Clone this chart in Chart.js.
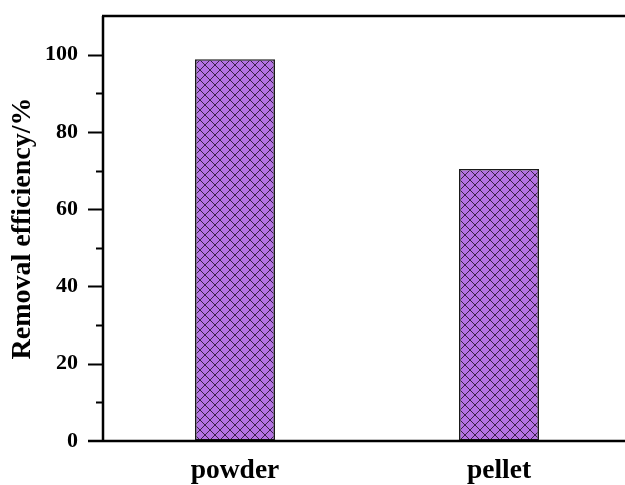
<!DOCTYPE html>
<html>
<head>
<meta charset="utf-8">
<script src="https://cdn.jsdelivr.net/npm/chart.js@4.4.0/dist/chart.umd.min.js"></script>
<style>
  html, body { margin: 0; padding: 0; background: #fff; overflow: hidden; }
  #wrap { width: 640px; height: 485px; }
</style>
</head>
<body>
<div id="wrap"><canvas id="removalChart" width="640" height="485"></canvas></div>
<script>
// data
const categories = ['powder', 'pellet'];
const removalEff = [98.8, 70.4];
const yMajorTicks = [0, 20, 40, 60, 80, 100];
const yMinorTicks = [10, 30, 50, 70, 90];

const fontFam = "'Liberation Serif', 'Times New Roman', serif";

// crosshatch fill for the bars
function makeHatch() {
    const s = 10;
    const c = document.createElement('canvas');
    c.width = s; c.height = s;
    const g = c.getContext('2d');
    g.fillStyle = '#b473e3';
    g.fillRect(0, 0, s, s);
    g.strokeStyle = '#3a2148';
    g.lineWidth = 1;
    g.beginPath();
    for (let k = -1; k <= 1; k++) {
        g.moveTo(k * s, 0); g.lineTo(k * s + s, s);
        g.moveTo(k * s + s, 0); g.lineTo(k * s, s);
    }
    g.stroke();
    return document.getElementById('removalChart').getContext('2d').createPattern(c, 'repeat');
}

// frame lines and tick marks
const framePlugin = {
    id: 'frame',
    afterDraw(chart) {
        const ctx = chart.ctx;
        const a = chart.chartArea;
        const y = chart.scales.y;
        ctx.save();
        ctx.strokeStyle = '#000';
        ctx.lineWidth = 2.5;
        ctx.beginPath();
        // bottom axis runs a bit past the y axis
        ctx.moveTo(a.left - 15, a.bottom);
        ctx.lineTo(a.right, a.bottom);
        // top border
        ctx.moveTo(a.left - 1, a.top);
        ctx.lineTo(a.right, a.top);
        // y axis
        ctx.moveTo(a.left, a.top);
        ctx.lineTo(a.left, a.bottom);
        ctx.stroke();
        ctx.lineWidth = 2.2;
        ctx.beginPath();
        yMinorTicks.forEach(v => {
            const py = Math.round(y.getPixelForValue(v)) + 0.5;
            ctx.moveTo(a.left - 7, py);
            ctx.lineTo(a.left, py);
        });
        yMajorTicks.forEach(v => {
            if (v === 0) return;
            const py = Math.round(y.getPixelForValue(v)) + 0.5;
            ctx.moveTo(a.left - 15, py);
            ctx.lineTo(a.left, py);
        });
        ctx.stroke();
        ctx.restore();
    }
};

document.addEventListener('DOMContentLoaded', function() {
    const hatch = makeHatch();
    const ctx = document.getElementById('removalChart').getContext('2d');
    new Chart(ctx, {
        type: 'bar',
        data: {
            labels: categories,
            datasets: [{
                label: 'Removal efficiency',
                data: removalEff,
                backgroundColor: hatch,
                borderColor: '#1a1a1a',
                borderWidth: 1.6,
                borderSkipped: false,
                barPercentage: 0.303,
                categoryPercentage: 1
            }]
        },
        options: {
            responsive: false,
            animation: false,
            layout: { padding: { top: 16, right: 9, left: 0, bottom: 0 } },
            plugins: {
                legend: { display: false },
                tooltip: { enabled: false }
            },
            scales: {
                x: {
                    grid: { display: false, drawTicks: false },
                    border: { display: false },
                    ticks: {
                        color: '#000',
                        padding: 13,
                        maxRotation: 0,
                        font: { family: fontFam, size: 27.5, weight: 'bold' }
                    },
                    afterFit: s => {
                        s.height = 44;
                        s.paddingLeft = 0; s.paddingRight = 0;
                        s.paddingTop = 0; s.paddingBottom = 0;
                    }
                },
                y: {
                    min: 0,
                    max: 110,
                    afterBuildTicks: s => { s.ticks = yMajorTicks.map(v => ({ value: v })); },
                    grid: { display: true, drawOnChartArea: false, drawTicks: true, tickLength: 14, color: 'rgba(0,0,0,0)' },
                    border: { display: false },
                    ticks: {
                        color: '#000',
                        padding: 11,
                        font: { family: fontFam, size: 22, weight: 'bold' }
                    },
                    title: {
                        display: true,
                        text: 'Removal efficiency/%',
                        color: '#000',
                        padding: { top: 6, bottom: 0 },
                        font: { family: fontFam, size: 28, weight: 'bold' }
                    },
                    afterFit: s => {
                        s.width = 103;
                        s.paddingTop = 0; s.paddingBottom = 0;
                    }
                }
            }
        },
        plugins: [framePlugin]
    });
});
</script>
</body>
</html>
